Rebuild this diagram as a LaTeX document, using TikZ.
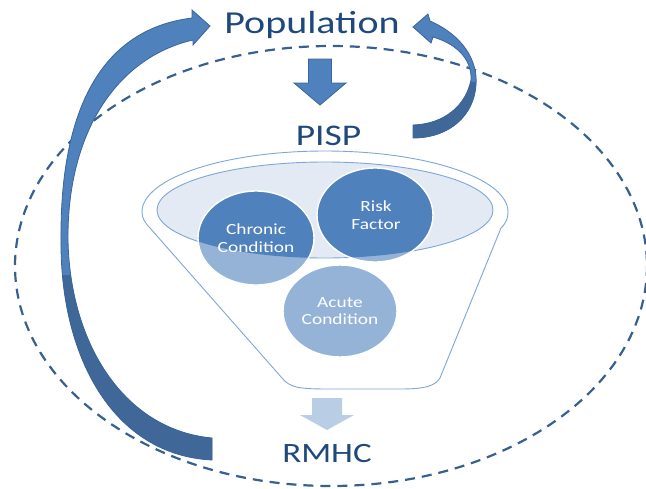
\documentclass[tikz,border=0pt]{standalone}
\usepackage{fontspec}
\setmainfont{Carlito}
\newfontfamily\calst[FakeStretch=1.25]{Carlito}
\definecolor{txtblue}{HTML}{1F497D}
\definecolor{arrblue}{HTML}{4F81BD}
\definecolor{arrdark}{HTML}{3F6899}
\definecolor{arredge}{HTML}{3A659A}
\definecolor{lightarr}{HTML}{B9CDE5}
\definecolor{dashcol}{HTML}{36608F}
\definecolor{funnelline}{HTML}{7EA6D8}
\definecolor{rimfill}{HTML}{E4EAF4}
\definecolor{circdark}{HTML}{4F81BD}
\definecolor{circlight}{HTML}{95B3D7}
\tikzset{
  bigtext/.style={text=txtblue, inner sep=0pt, anchor=base},
  circtext/.style={text=white, align=center, inner sep=0pt, font=\calst\fontsize{15.5}{17.5}\selectfont},
  blockarrow/.style={fill=arrblue, draw=arredge, line width=0.8pt},
  dashring/.style={draw=dashcol, line width=2.2pt, dash pattern=on 10pt off 7pt},
  funnelstyle/.style={fill=white, draw=funnelline, line width=0.9pt},
  circborder/.style={draw=white, line width=1.4pt}
}
\begin{document}
\begin{tikzpicture}[x=1pt,y=-1pt]
\useasboundingbox (0,0) rectangle (646,488);

% dashed ring
\draw[dashring] (331,266) ellipse [x radius=316, y radius=220];

% funnel body
\draw[funnelstyle] (150,228) -- (282,378)
  .. controls (290,388) and (300,389) .. (330,389) -- (400,389)
  .. controls (425,389) and (435,386) .. (440,378) -- (501,228)
  .. controls (507,222) and (508,217) .. (508,212)
  .. controls (508,178.3) and (426,151) .. (325,151)
  .. controls (224,151) and (142,178.3) .. (142,212)
  .. controls (142,218) and (145,223) .. (150,228) -- cycle;
\draw[fill=rimfill, draw=funnelline, line width=0.9pt] (325,210) ellipse [x radius=168, y radius=48];

% circles
\fill[circlight] (256,238) ellipse [x radius=58, y radius=47];
\fill[circlight] (375,215) ellipse [x radius=58, y radius=47];
\fill[circlight] (340,311) ellipse [x radius=57, y radius=46];
\begin{scope}
  \clip (325,210) ellipse [x radius=168, y radius=48];
  \fill[circdark] (256,238) ellipse [x radius=58, y radius=47];
  \fill[circdark] (375,215) ellipse [x radius=58, y radius=47];
\end{scope}
\draw[circborder] (256,238) ellipse [x radius=58, y radius=47];
\draw[circborder] (375,215) ellipse [x radius=58, y radius=47];
\draw[circborder] (340,311) ellipse [x radius=57, y radius=46];
\node[circtext] (chronic) at (256,238) {Chronic\\Condition};
\node[circtext] (risk) at (376,215) {Risk\\Factor};
\node[circtext] (acute) at (340,311) {Acute\\Condition};

% texts
\node[bigtext, font=\calst\fontsize{32}{38}\selectfont] (pop) at (312,33) {Population};
\node[bigtext, font=\calst\fontsize{30}{36}\selectfont] (pisp) at (328.5,145) {PISP};
\node[bigtext, font=\calst\fontsize{28}{34}\selectfont] (rmhc) at (327,462) {RMHC};

% central down arrows
\draw[blockarrow] (308.5,59) -- (331.5,59) -- (331.5,83) -- (346,83) -- (320,105)
  -- (294,83) -- (308.5,83) -- cycle;
\fill[lightarr] (312,398) -- (342,398) -- (342,415) -- (354,415) -- (327,430)
  -- (300,415) -- (312,415) -- cycle;

% left curved arrow
\def\leftarrowpath{(212,460) .. controls (112,455) and (60,355) .. (61,240)
  .. controls (60,120) and (95,30) .. (192,18) -- (192,10) -- (210,26) -- (193,45) -- (193,40)
  .. controls (115,58) and (67,135) .. (68,240)
  .. controls (70,345) and (125,430) .. (212,438) -- cycle}
\fill[arrblue] \leftarrowpath;
\begin{scope}
  \clip (0,275) rectangle (260,488);
  \fill[arrdark] \leftarrowpath;
\end{scope}
\draw[arredge, line width=0.8pt] \leftarrowpath;

% right curved arrow
\def\rightarrowpath{(413,138) .. controls (450,138) and (474,115) .. (476,85)
  .. controls (478,60) and (462,35) .. (430,21) -- (428,14) -- (413,27) -- (431,43) -- (433,37)
  .. controls (460,45) and (472,62) .. (471,80)
  .. controls (466,105) and (445,124) .. (413,125) -- cycle}
\fill[arrblue] \rightarrowpath;
\begin{scope}
  \clip (400,82) rectangle (500,150);
  \fill[arrdark] \rightarrowpath;
\end{scope}
\draw[arredge, line width=0.8pt] \rightarrowpath;
\end{tikzpicture}
\end{document}
